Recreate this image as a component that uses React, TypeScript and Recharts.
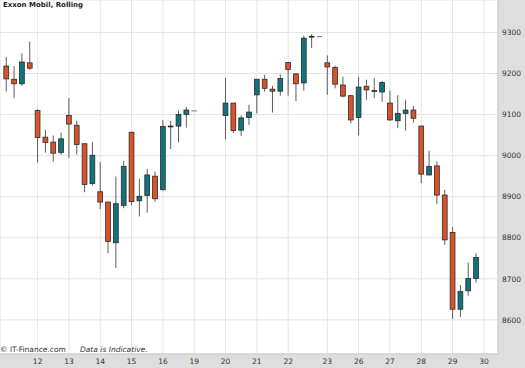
import React from 'react';
import { ComposedChart, Bar, XAxis, YAxis, CartesianGrid } from 'recharts';

// Trading days shown on the time axis and the number of hourly slots in each
const dayLabels = ['11', '12', '13', '14', '15', '16', '19', '20', '21', '22', '23', '26', '27', '28', '29', '30'];
const slotsPerDay = [4, 4, 4, 4, 4, 4, 4, 4, 4, 5, 4, 4, 4, 4, 4, 2];

// OHLC values per slot (null = no trading in that slot)
const opens = [
  9218, 9186, 9175, 9226,
  9110, 9045, 9033, 9008,
  9098, 9074, 9029, 8932,
  8912, 8887, 8788, 8879,
  9057, 8890, 8903, 8950,
  8917, 9070, 9072, 9100,
  9109, null, null, null,
  9098, 9128, 9062, 9093,
  9148, 9186, 9162, 9157,
  9227, 9199, 9177, 9289, 9290,
  9226, 9215, 9172, 9146,
  9093, 9169, 9157, 9155,
  9128, 9085, 9103, 9111,
  9072, 8953, 8975, 8904,
  8813, 8626, 8671, 8701,
  null, null,
];
const highs = [
  9240, 9218, 9249, 9278,
  9113, 9063, 9049, 9056,
  9140, 9085, 9030, 9033,
  8984, 8888, 8949, 8987,
  9058, 8943, 8967, 8961,
  9087, 9085, 9110, 9118,
  9109, null, null, null,
  9189, 9128, 9098, 9124,
  9187, 9197, 9170, 9198,
  9228, 9200, 9292, 9296, 9290,
  9244, 9219, 9192, 9147,
  9192, 9185, 9189, 9182,
  9158, 9147, 9136, 9121,
  9073, 9012, 8986, 8917,
  8826, 8685, 8740, 8762,
  null, null,
];
const lows = [
  9156, 9140, 9170, 9209,
  8983, 9007, 8985, 9002,
  8994, 9003, 8911, 8927,
  8870, 8762, 8726, 8872,
  8879, 8852, 8861, 8888,
  8915, 9016, 9032, 9068,
  9109, null, null, null,
  9040, 9055, 9048, 9075,
  9103, 9156, 9105, 9146,
  9146, 9133, 9158, 9262, 9290,
  9148, 9164, 9142, 9079,
  9049, 9136, 9140, 9131,
  9085, 9067, 9061, 9080,
  8933, 8952, 8882, 8783,
  8602, 8607, 8659, 8691,
  null, null,
];
const closes = [
  9187, 9175, 9228, 9213,
  9044, 9032, 9006, 9041,
  9077, 9027, 8930, 9001,
  8887, 8791, 8883, 8974,
  8888, 8901, 8953, 8895,
  9071, 9072, 9100, 9111,
  9109, null, null, null,
  9128, 9061, 9092, 9106,
  9186, 9164, 9157, 9188,
  9210, 9175, 9286, 9290, 9290,
  9216, 9174, 9145, 9087,
  9167, 9160, 9158, 9178,
  9087, 9103, 9111, 9091,
  8955, 8974, 8904, 8795,
  8626, 8669, 8701, 8752,
  null, null,
];

const priceTicks = [8600, 8700, 8800, 8900, 9000, 9100, 9200, 9300];
const priceDomain = [8517, 9379];

const slots: string[] = [];
dayLabels.forEach((d, i) => {
  for (let k = 0; k < slotsPerDay[i]; k++) slots.push(`${d}#${k}`);
});
const data = slots.map((s, i) => ({
  slot: s,
  o: opens[i],
  h: highs[i],
  l: lows[i],
  c: closes[i],
  range: highs[i] == null ? null : [lows[i], highs[i]],
}));
const dayTicks = slots.filter((s) => s.endsWith('#0') && !s.startsWith('11#'));

const UP = '#13737d';
const DOWN = '#d9532a';

const Candle = (props: any) => {
  const { x, y, width, height, payload } = props;
  if (!payload || payload.h == null || x == null) return null;
  const cx = x + width / 2;
  const top = Math.min(y, y + height);
  const bot = Math.max(y, y + height);
  const { o, h, l, c } = payload;
  if (h === l) {
    return <line x1={cx - 2.7} x2={cx + 2.7} y1={top} y2={top} stroke="#8c8c8c" strokeWidth={1.2} />;
  }
  const py = (v: number) => top + ((h - v) / (h - l)) * (bot - top);
  const yo = py(o);
  const yc = py(c);
  const bTop = Math.min(yo, yc);
  const bBot = Math.max(yo, yc);
  const bw = 4.8;
  const doji = bBot - bTop < 1.5;
  return (
    <g>
      <line x1={cx} x2={cx} y1={top} y2={bot} stroke="#5e5e5e" strokeWidth={1} />
      {doji ? (
        <rect x={cx - bw / 2 - 0.4} y={(bTop + bBot) / 2 - 0.8} width={bw + 0.8} height={1.6} fill="#222" />
      ) : (
        <rect
          x={cx - bw / 2}
          y={bTop}
          width={bw}
          height={bBot - bTop}
          fill={c >= o ? UP : DOWN}
          stroke="#2b2b2b"
          strokeWidth={0.8}
        />
      )}
    </g>
  );
};

const tickStyle = { fill: '#333', fontSize: 7.5, fontFamily: '"DejaVu Sans", Verdana, sans-serif' };

export default function App() {
  return (
    <div style={{ position: 'absolute', left: 0, top: 0, width: 525, height: 368, background: '#dedede' }}>
      <ComposedChart width={525} height={368} data={data} margin={{ top: 0, right: 0, bottom: 0, left: 0 }} barCategoryGap="30%">
        <CartesianGrid fill="#ffffff" stroke="#e4e4e4" strokeWidth={1} />
        <XAxis
          dataKey="slot"
          ticks={dayTicks}
          interval={0}
          tickFormatter={(s: string) => s.split('#')[0]}
          height={14}
          tickSize={0}
          tickMargin={5}
          padding={{ left: 2.4, right: 2.3 }}
          axisLine={{ stroke: '#c8c8c8' }}
          tick={tickStyle}
        />
        <YAxis
          orientation="right"
          width={27}
          domain={priceDomain}
          ticks={priceTicks}
          allowDataOverflow
          tickSize={0}
          tickMargin={4}
          axisLine={{ stroke: '#c8c8c8' }}
          tick={{ ...tickStyle, textAnchor: 'start' }}
        />
        <Bar dataKey="range" shape={<Candle />} isAnimationActive={false} />
      </ComposedChart>
      <svg width={525} height={368} style={{ position: 'absolute', left: 0, top: 0, pointerEvents: 'none' }}>
        <text x={3} y={7} fontFamily='"DejaVu Sans", Verdana, sans-serif' fontSize={7} fontWeight="bold" fill="#222">
          Exxon Mobil, Rolling
        </text>
        <text x={0} y={352} fontFamily='"DejaVu Sans", Verdana, sans-serif' fontSize={7.5} fill="#333">
          © IT-Finance.com
        </text>
        <text x={80} y={352} fontFamily='"DejaVu Sans", Verdana, sans-serif' fontSize={7.5} fontStyle="italic" fill="#333">
          Data is Indicative.
        </text>
      </svg>
    </div>
  );
}
